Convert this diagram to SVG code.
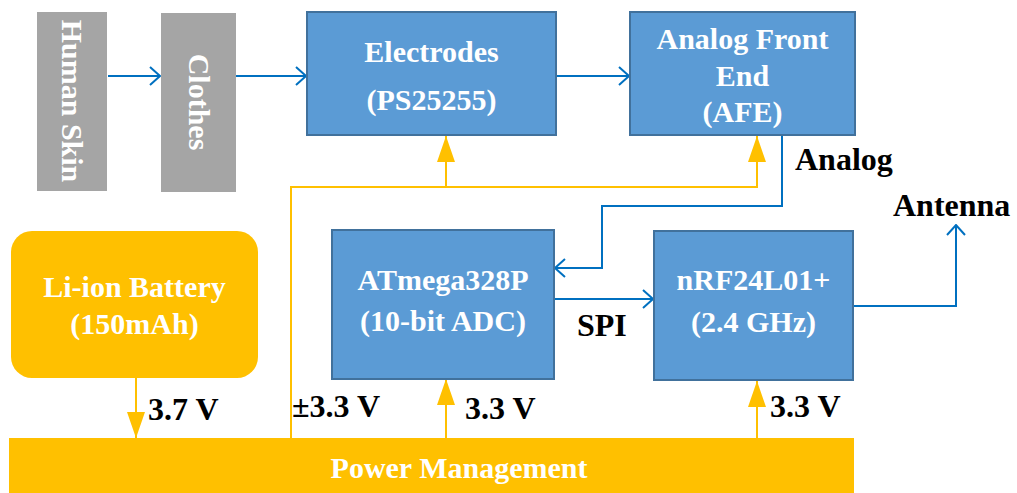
<svg xmlns="http://www.w3.org/2000/svg" width="1017" height="493" viewBox="0 0 1017 493">
<style>
.gray{fill:#A5A5A5}
.blue{fill:#5B9BD5;stroke:#41719C;stroke-width:2}
.yel{fill:#FFC000}
.wt{fill:#FFFFFF;font-family:"Liberation Serif","Times New Roman",serif;font-weight:bold;font-size:30px;text-anchor:middle}
.bk{fill:#000000;font-family:"Liberation Serif","Times New Roman",serif;font-weight:bold;font-size:32px}
.bl{fill:none;stroke:#0070C0;stroke-width:2}
.yl{fill:none;stroke:#FFC000;stroke-width:2}
</style>
<defs>
<marker id="chev" viewBox="0 0 12 20" refX="11" refY="10" markerWidth="12" markerHeight="20" markerUnits="userSpaceOnUse" orient="auto">
<path d="M1,1 L11,10 L1,19" fill="none" stroke="#0070C0" stroke-width="2"/>
</marker>
<marker id="tri" viewBox="0 0 26 18" refX="26" refY="9" markerWidth="26" markerHeight="18" markerUnits="userSpaceOnUse" orient="auto">
<path d="M0,0 L26,9 L0,18 Z" fill="#FFC000"/>
</marker>
</defs>

<g id="connectors">
<path class="bl" d="M108,76 H160" marker-end="url(#chev)"/>
<path class="bl" d="M236,76 H306" marker-end="url(#chev)"/>
<path class="bl" d="M557,76 H629" marker-end="url(#chev)"/>
<path class="bl" d="M782,135 V206 H602 V268 H555" marker-end="url(#chev)"/>
<path class="bl" d="M554,299 H653" marker-end="url(#chev)"/>
<path class="bl" d="M853,306 H956 V225" marker-end="url(#chev)"/>
<path class="yl" d="M291,438 V187 H757 V136" marker-end="url(#tri)"/>
<path class="yl" d="M446,187 V136" marker-end="url(#tri)"/>
<path class="yl" d="M446,438 V379" marker-end="url(#tri)"/>
<path class="yl" d="M757,438 V381" marker-end="url(#tri)"/>
<path class="yl" d="M136,378 V438" marker-end="url(#tri)"/>
</g>

<g id="human-skin">
<rect class="gray" x="37" y="12" width="70" height="179"/>
<text class="wt" transform="translate(72,101) rotate(90)" dy="10">Human Skin</text>
</g>
<g id="clothes">
<rect class="gray" x="161" y="13" width="75" height="179"/>
<text class="wt" transform="translate(198.5,102) rotate(90)" dy="10">Clothes</text>
</g>
<g id="electrodes">
<rect class="blue" x="307" y="12" width="249" height="123"/>
<text class="wt" x="431.5" y="62">Electrodes</text>
<text class="wt" x="431.5" y="110">(PS25255)</text>
</g>
<g id="afe">
<rect class="blue" x="630" y="12" width="225" height="123"/>
<text class="wt" x="742.5" y="49">Analog Front</text>
<text class="wt" x="742.5" y="86">End</text>
<text class="wt" x="742.5" y="122">(AFE)</text>
</g>
<g id="atmega">
<rect class="blue" x="332" y="230" width="222" height="149"/>
<text class="wt" x="443" y="290">ATmega328P</text>
<text class="wt" x="443" y="331">(10-bit ADC)</text>
</g>
<g id="nrf">
<rect class="blue" x="654" y="231" width="199" height="149"/>
<text class="wt" x="753.5" y="290">nRF24L01+</text>
<text class="wt" x="753.5" y="332">(2.4 GHz)</text>
</g>
<g id="battery">
<rect class="yel" x="11" y="231" width="247" height="147" rx="21"/>
<text class="wt" x="134.5" y="297">Li-ion Battery</text>
<text class="wt" x="134.5" y="334">(150mAh)</text>
</g>
<g id="power-management">
<rect class="yel" x="9" y="438" width="845" height="55"/>
<text class="wt" x="459" y="478">Power Management</text>
</g>

<g id="labels">
<text class="bk" x="795" y="170">Analog</text>
<text class="bk" x="893" y="216">Antenna</text>
<text class="bk" x="577" y="336">SPI</text>
<text class="bk" x="148" y="420">3.7 V</text>
<text class="bk" x="292" y="417">±3.3 V</text>
<text class="bk" x="465" y="419">3.3 V</text>
<text class="bk" x="770" y="417">3.3 V</text>
</g>
</svg>
